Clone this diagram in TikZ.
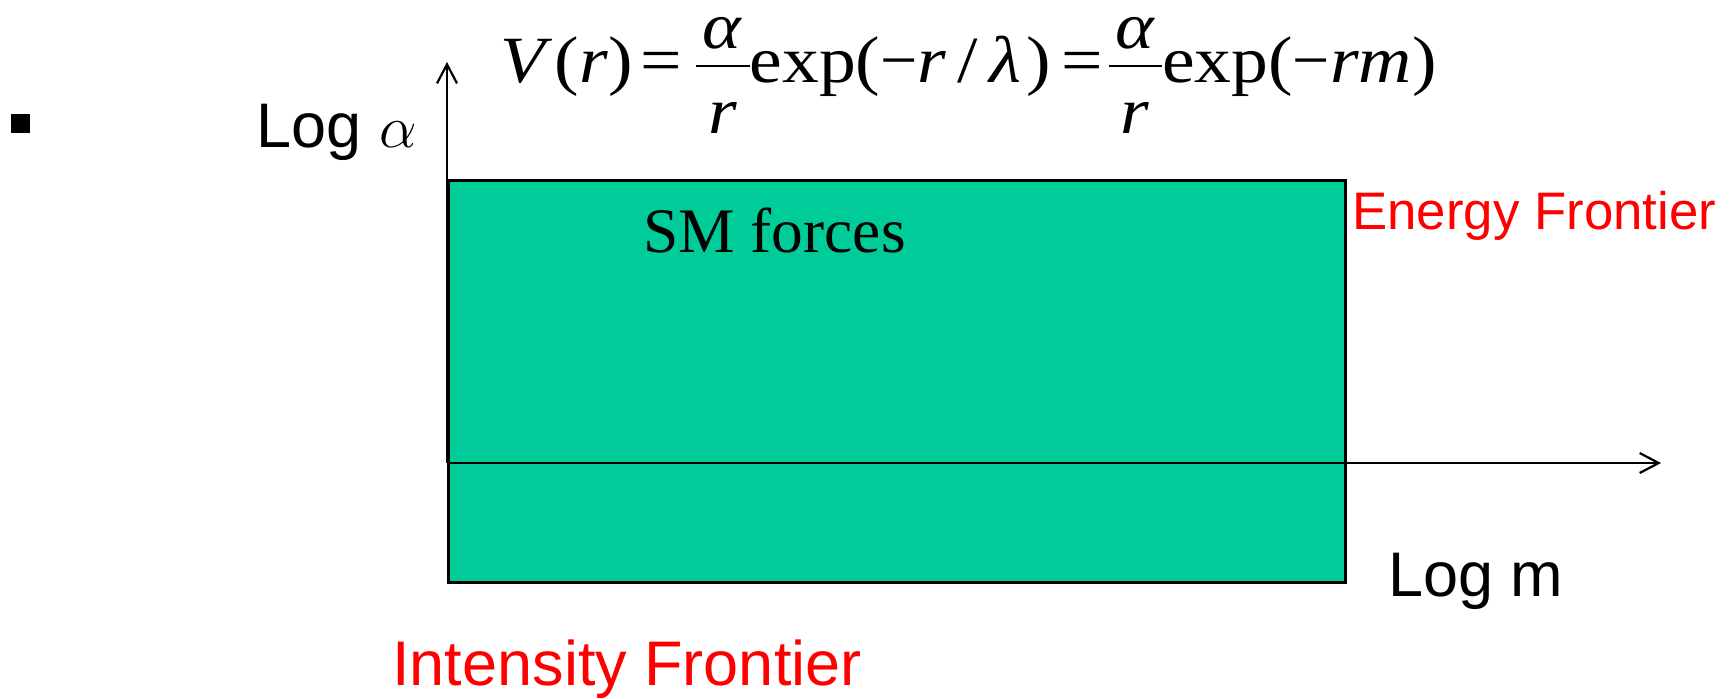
\documentclass[tikz,border=0pt]{standalone}
\usepackage{graphicx}
\usepackage{fontspec}
\setmainfont{Liberation Serif}
\setsansfont{Liberation Sans}
\usepackage{xcolor}
\usepackage{tikz}
\usetikzlibrary{positioning,arrows.meta}
\definecolor{smgreen}{RGB}{0,204,153}
\definecolor{frontred}{RGB}{255,0,0}
% a fraction with the bar at math axis height, and a narrow minus
\newcommand{\ratio}[2]{\rlap{\makebox[24pt]{\raisebox{17pt}{#1}}}\rlap{\makebox[24pt]{\raisebox{-25.5pt}{#2}}}\rule[7.5pt]{24pt}{1pt}}
\newcommand{\minussign}{\scalebox{0.9}[1]{−}}
\tikzset{
  axis/.style={-{Straight Barb[length=9.5pt,width=10pt,line width=1.1pt]}, line width=1.2pt},
  region/.style={draw=black, line width=1.4pt, fill=smgreen},
  sflabel/.style={inner sep=0pt, anchor=base west, font=\sffamily\fontsize{31.5}{36}\selectfont},
  redlabel/.style={sflabel, text=frontred},
  rmlabel/.style={inner sep=0pt, anchor=base west, font=\fontsize{31.7}{36}\selectfont},
}
\begin{document}
\begin{tikzpicture}[x=0.5pt,y=-0.5pt]
  \useasboundingbox (0,0) rectangle (1732,698);
  % axes and shaded region
  \coordinate (O)    at (447,463);
  \coordinate (ytip) at (447,62);
  \coordinate (xtip) at (1661,463);
  \node[region, minimum width=448.5pt, minimum height=201pt, inner sep=0pt, anchor=north west] (sm) at (447,179) {};
  \draw[axis] (O) -- (ytip);
  \draw[axis] (O) -- (xtip);
  % labels
  \node[fill=black, minimum size=9.5pt, inner sep=0pt] (mark) at (20.5,123.5) {};
  \node[sflabel] (logalpha) at (256,147) {Log \scalebox{1.2}{$\alpha$}};
  \node[rmlabel, font=\fontsize{33}{40}\selectfont] (potential) at (500,82)
    {\scalebox{1.115}[1]{\textit{V}\hspace{1pt}(\textit{r})\hspace{3.5pt}=\hspace{6.4pt}\ratio{\textit{α}}{\textit{r}}exp(\minussign\textit{r}\hspace{5pt}/\hspace{5pt}\textit{λ}\hspace{2.5pt})\hspace{4.6pt}=\hspace{2.5pt}\ratio{\textit{α}}{\textit{r}}exp(\minussign\textit{rm})}};
  \node[rmlabel] (smlabel) at (643,252) {SM forces};
  \node[redlabel, font=\sffamily\fontsize{26.4}{30}\selectfont] (energy) at (1352,229) {Energy Frontier};
  \node[sflabel] (logm) at (1388,596) {Log m};
  \node[redlabel] (intensity) at (392,685) {Intensity Frontier};
\end{tikzpicture}
\end{document}
